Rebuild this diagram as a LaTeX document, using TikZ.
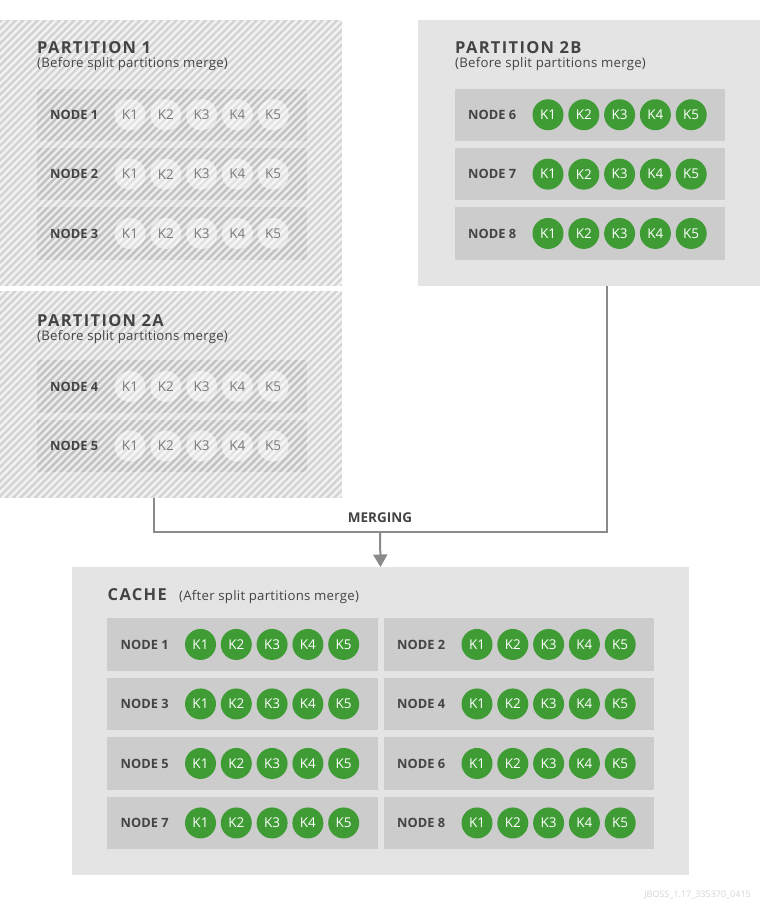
\documentclass[tikz,border=0pt]{standalone}
\usepackage{fontspec}
\setmainfont{Open Sans}
\newfontfamily\titlefont[LetterSpace=8]{Open Sans}
\newfontfamily\subfont[LetterSpace=2]{Open Sans}
\usetikzlibrary{arrows.meta}
\definecolor{boxgray}{HTML}{E4E4E4}
\definecolor{rowgray}{HTML}{CCCCCC}
\definecolor{hatchgray}{HTML}{D4D4D4}
\definecolor{hatchrow}{HTML}{C2C2C2}
\definecolor{oldkeygray}{HTML}{E2E2E2}
\definecolor{keygreen}{HTML}{3F9C35}
\definecolor{ink}{HTML}{444444}
\definecolor{oldink}{HTML}{7A7A7A}
\definecolor{wiregray}{HTML}{8A8A8A}
\definecolor{footgray}{HTML}{D4D4D4}
\tikzset{>={Triangle[width=14pt,length=12.5pt]}}
\tikzset{partbox/.style={anchor=north west, inner sep=0pt, fill=boxgray}}
\tikzset{hatchbox/.style={anchor=north west, inner sep=0pt, fill=hatchgray}}
\tikzset{row/.style={anchor=north west, inner sep=0pt, minimum width=270.5pt, minimum height=52.5pt, fill=rowgray}}
\tikzset{oldrow/.style={row, fill=hatchrow}}
\tikzset{key/.style={circle, inner sep=0pt, minimum size=31pt, fill=keygreen, text=white, font=\fontsize{13.5}{15}\selectfont}}
\tikzset{oldkey/.style={circle, inner sep=0pt, minimum size=31pt, fill=oldkeygray}}
\tikzset{oldtxt/.style={inner sep=0pt, text=oldink, font=\fontsize{13.5}{15}\selectfont}}
\tikzset{nodelbl/.style={anchor=west, inner sep=0pt, text=ink, font=\bfseries\fontsize{12.8}{14}\selectfont}}
\tikzset{title/.style={anchor=base west, inner sep=0pt, text=ink, font=\titlefont\bfseries\fontsize{16.5}{18}\selectfont}}
\tikzset{sub/.style={anchor=base west, inner sep=0pt, text=ink, font=\subfont\fontsize{13.2}{15}\selectfont}}
\tikzset{stripe/.style={white, opacity=.7, line width=2.4pt}}
\tikzset{wire/.style={draw=wiregray, line width=2pt}}

\begin{document}
\begin{tikzpicture}[x=1pt,y=-1pt]
    \useasboundingbox (0,0) rectangle (760,905);
    \node[hatchbox, minimum width=342pt, minimum height=265.5pt] (p1) at (0,20) {};
    \node[hatchbox, minimum width=342pt, minimum height=207pt] (p2a) at (0,291) {};
    \node[partbox, minimum width=342pt, minimum height=265.7pt] (p2b) at (418,20) {};
    \node[partbox, minimum width=617.5pt, minimum height=308pt] (cache) at (71.5,567) {};
    % split partitions, hatched
    \foreach \n/\y in {1/88.3,2/147.7,3/207,4/360,5/419.5}{
        \node[oldrow] (n\n) at (36.5,\y) {};
        \foreach \k in {1,...,5}
            \node[oldkey] (n\n-\k) at ([xshift={93.5pt+35.8pt*(\k-1)}]n\n.west) {};
    }
    \begin{scope}
        \clip (p1.north west) rectangle (p1.south east) (p2a.north west) rectangle (p2a.south east);
        \foreach \i in {-480,-472.7,...,345}
            \draw[stripe] (\i,498) -- ++(478,-478);
    \end{scope}
    \foreach \n in {1,...,5}{
        \node[nodelbl] (n\n-lbl) at ([xshift=13.5pt]n\n.west) {NODE \n};
        \foreach \k in {1,...,5}
            \node[oldtxt] (n\n-\k-t) at (n\n-\k) {K\k};
    }
    \node[title] (t1) at (37,53.3) {PARTITION 1};
    \node[sub] (s1) at (37,67.5) {(Before split partitions merge)};
    \node[title] (t2a) at (37,326.7) {PARTITION 2A};
    \node[sub] (s2a) at (37,340.5) {(Before split partitions merge)};
    % partition 2B
    \node[title] (t2b) at (455,53.3) {PARTITION 2B};
    \node[sub] (s2b) at (455,67.5) {(Before split partitions merge)};
    \foreach \n/\y in {6/88.3,7/147.7,8/207}{
        \node[row] (m\n) at (454.5,\y) {};
        \node[nodelbl] (m\n-lbl) at ([xshift=13.5pt]m\n.west) {NODE \n};
        \foreach \k in {1,...,5}
            \node[key] (m\n-\k) at ([xshift={93.5pt+35.8pt*(\k-1)}]m\n.west) {K\k};
    }
    % merge
    \coordinate (merge) at (380,531.7);
    \draw[wire] ([xshift=-17.5pt]p2a.south) |- (merge) -| ([xshift=18pt]p2b.south);
    \draw[wire, ->] (merge) -- (cache.north);
    \node[anchor=base, inner sep=0pt, text=ink, font=\bfseries\fontsize{13.5}{15}\selectfont] (mlbl) at (380,522.7) {MERGING};
    % cache
    \node[title] (tc) at (107.5,600.5) {CACHE};
    \node[sub] (sc) at (179,600.5) {(After split partitions merge)};
    \foreach \n/\x/\y in {1/107/618,2/383.5/618,3/107/677.5,4/383.5/677.5,5/107/737,6/383.5/737,7/107/796.5,8/383.5/796.5}{
        \node[row] (c\n) at (\x,\y) {};
        \node[nodelbl] (c\n-lbl) at ([xshift=13.5pt]c\n.west) {NODE \n};
        \foreach \k in {1,...,5}
            \node[key] (c\n-\k) at ([xshift={93.5pt+35.8pt*(\k-1)}]c\n.west) {K\k};
    }
    \node[anchor=base east, inner sep=0pt, text=footgray, font=\fontsize{9}{10}\selectfont] (foot) at (751,897) {JBOSS\_1.17\_335370\_0415};
\end{tikzpicture}
\end{document}
